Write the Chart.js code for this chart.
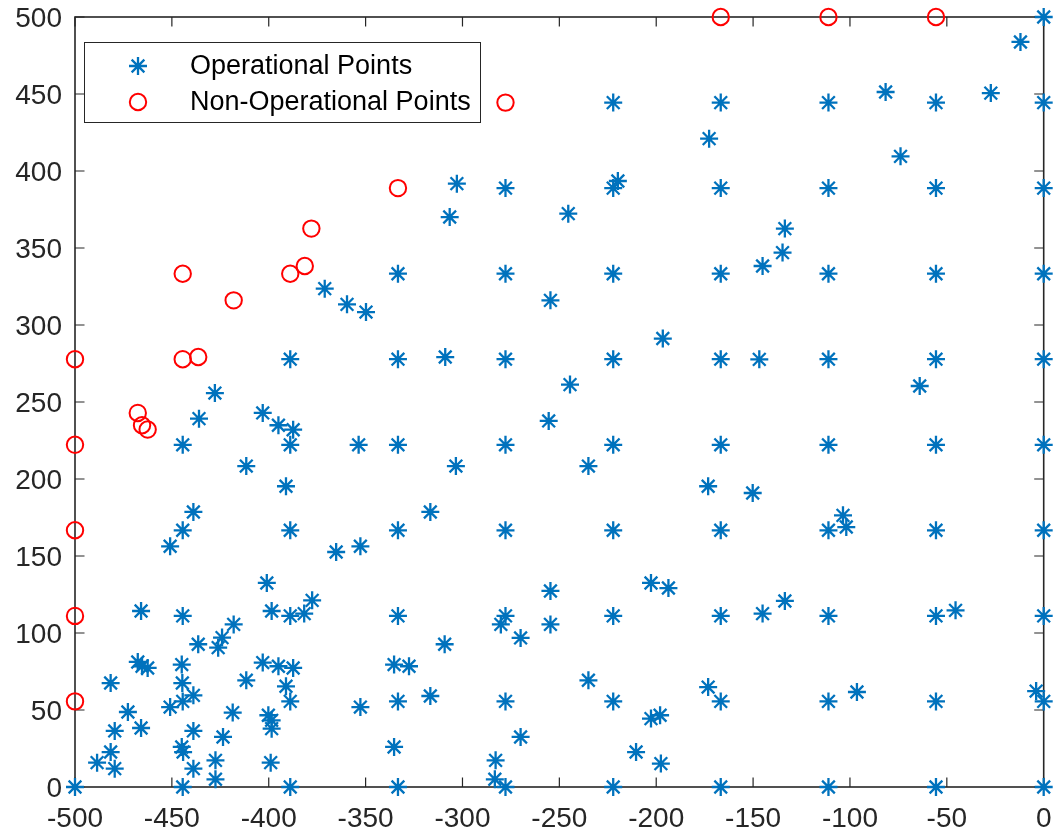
<!DOCTYPE html>
<html>
<head>
<meta charset="utf-8">
<script src="https://cdn.jsdelivr.net/npm/chart.js@4.4.0/dist/chart.umd.min.js"></script>
<style>
  html, body { margin: 0; padding: 0; background: #fff; }
</style>
</head>
<body>
<canvas id="chart" width="1055" height="834"></canvas>
<script>
// Operational points (grid rows first, then the scattered ones)
const opX = [
  0,
  -222.2, -166.7, -111.1, -55.6, 0,
  -277.8, -222.2, -166.7, -111.1, -55.6, 0,
  -333.3, -277.8, -222.2, -166.7, -111.1, -55.6, 0,
  -388.9, -333.3, -277.8, -222.2, -166.7, -111.1, -55.6, 0,
  -444.4, -388.9, -333.3, -277.8, -222.2, -166.7, -111.1, -55.6, 0,
  -444.4, -388.9, -333.3, -277.8, -222.2, -166.7, -111.1, -55.6, 0,
  -444.4, -388.9, -333.3, -277.8, -222.2, -166.7, -111.1, -55.6, 0,
  -444.4, -388.9, -333.3, -277.8, -222.2, -166.7, -111.1, -55.6, 0,
  -500, -444.4, -388.9, -333.3, -277.8, -222.2, -166.7, -111.1, -55.6, 0,
  -436, -403.1, -395, -387.4, -353.6, -411.6, -391.1, -438.9, -450.9, -365.2,
  -352.7, -401, -377.6, -381.7, -398.5, -465.9, -418.1, -424.1, -426.1, -436.4,
  -467.6, -465.4, -462.5, -444.9, -444.6, -438.9, -450.9, -481.6, -472.7, -479.5,
  -465.9, -481.6, -488.6, -479.5, -444.9, -444.2, -438.9, -438.9, -427.5, -427.5,
  -423.6, -418.6, -411.6, -403.1, -395, -387.4, -391.1, -400.2, -398.5, -398.5,
  -399, -352.7, -335.3, -335.3, -327.6, -427.8, -371.1, -359.6, -349.8, -172.7,
  -302.9, -219.8, -306.6, -245.4, -254.6, -196.6, -308.9, -244.5, -12, -81.6,
  -27.3, -73.9, -133.6, -134.8, -145.1, -146.8, -64, -255.5, -303.4, -235,
  -173.2, -316.6, -202.7, -193.7, -254.6, -280.2, -254.6, -270, -309.2, -316.6,
  -235, -173.2, -202.7, -198, -270, -282.9, -283.3, -210.4, -197.6, -150.2,
  -103.6, -101.9, -133.6, -145.1, -45.5, -96.4, -3.9
];
const opY = [
  500,
  444.4, 444.4, 444.4, 444.4, 444.4,
  388.9, 388.9, 388.9, 388.9, 388.9, 388.9,
  333.3, 333.3, 333.3, 333.3, 333.3, 333.3, 333.3,
  277.8, 277.8, 277.8, 277.8, 277.8, 277.8, 277.8, 277.8,
  222.2, 222.2, 222.2, 222.2, 222.2, 222.2, 222.2, 222.2, 222.2,
  166.7, 166.7, 166.7, 166.7, 166.7, 166.7, 166.7, 166.7, 166.7,
  111.1, 111.1, 111.1, 111.1, 111.1, 111.1, 111.1, 111.1, 111.1,
  55.6, 55.6, 55.6, 55.6, 55.6, 55.6, 55.6, 55.6, 55.6,
  0, 0, 0, 0, 0, 0, 0, 0, 0, 0,
  239.2, 242.9, 234.9, 232, 222.2, 208.4, 195.3, 178.6, 156.3, 152.6,
  156.3, 132.5, 121.2, 112.6, 114.3, 114.3, 105.6, 97, 90.5, 92.7,
  81.2, 78.4, 77.3, 79.5, 67.5, 59.5, 51.9, 67.5, 48.7, 36.4,
  38.3, 22.7, 15.8, 11.9, 26, 22.7, 36.4, 11.9, 17.3, 5,
  32.5, 48.3, 69.3, 80.8, 78.4, 77.3, 65.4, 46.6, 43.3, 37.9,
  15.8, 51.9, 26, 79.5, 78.4, 255.8, 323.6, 313.4, 308.4, 421,
  391.8, 393.5, 370.1, 372.3, 316, 291.2, 279.2, 261.3, 483.8, 451.3,
  450.6, 409.5, 362.6, 347, 338.3, 277.7, 260.4, 237.7, 208.4, 208.4,
  195.3, 178.6, 132.5, 129.2, 127.3, 105.6, 105.6, 96.8, 92.7, 59.1,
  69.3, 64.9, 44.4, 46.6, 32.5, 17.3, 5, 22.7, 15.2, 190.9,
  176.4, 168.8, 120.8, 112.6, 114.7, 61.7, 62.3
];

// Non-operational points
const nonOpX = [
  -500, -500, -500, -500, -500,
  -444.4, -436.4, -444.4, -418.1, -388.9, -381.4, -378,
  -333.3, -277.8, -467.6, -465.4, -462.5,
  -166.7, -111.1, -55.6
];
const nonOpY = [
  55.6, 111.1, 166.7, 222.2, 277.8,
  277.8, 279.2, 333.3, 316, 333.3, 338.3, 362.6,
  388.9, 444.4, 242.9, 234.9, 232.1,
  500, 500, 500
];

const seriesNames = ['Operational Points', 'Non-Operational Points'];
const xTicks = [-500, -450, -400, -350, -300, -250, -200, -150, -100, -50, 0];
const yTicks = [0, 50, 100, 150, 200, 250, 300, 350, 400, 450, 500];

const axisColor = '#262626';
const blue = '#0072BD';
const red = '#FF0000';
const fontFamily = '"Liberation Sans", Arial, Helvetica, sans-serif';

function toPoints(xs, ys) {
  return xs.map((x, i) => ({ x: x, y: ys[i] }));
}

// box round the plot with ticks pointing inwards (MATLAB style)
const framePlugin = {
  id: 'frame',
  beforeDatasetsDraw(chart) {
    const { ctx, chartArea: a, scales } = chart;
    const len = 9.5;
    ctx.save();
    ctx.strokeStyle = axisColor;
    ctx.lineWidth = 1.2;
    ctx.beginPath();
    xTicks.forEach(v => {
      const px = scales.x.getPixelForValue(v);
      ctx.moveTo(px, a.bottom); ctx.lineTo(px, a.bottom - len);
      ctx.moveTo(px, a.top); ctx.lineTo(px, a.top + len);
    });
    yTicks.forEach(v => {
      const py = scales.y.getPixelForValue(v);
      ctx.moveTo(a.left, py); ctx.lineTo(a.left + len, py);
      ctx.moveTo(a.right, py); ctx.lineTo(a.right - len, py);
    });
    ctx.stroke();
    ctx.lineWidth = 1.6;
    ctx.strokeRect(a.left, a.top, a.right - a.left, a.bottom - a.top);
    ctx.restore();
  }
};

// legend box in the upper left corner of the axes
const boxLegend = {
  id: 'boxLegend',
  afterDatasetsDraw(chart) {
    const { ctx, chartArea: a } = chart;
    const bx = a.left + 9, by = a.top + 25, bw = 396, bh = 80;
    ctx.save();
    ctx.fillStyle = '#fff';
    ctx.fillRect(bx, by, bw, bh);
    ctx.strokeStyle = '#262626';
    ctx.lineWidth = 1;
    ctx.strokeRect(bx + 0.5, by + 0.5, bw, bh);
    ctx.font = '27px ' + fontFamily;
    ctx.textBaseline = 'middle';
    ctx.textAlign = 'left';
    chart.data.datasets.forEach((ds, i) => {
      const cy = by + 24 + i * 36;
      ctx.strokeStyle = ds.borderColor;
      ctx.fillStyle = 'rgba(0,0,0,0)';
      ctx.lineWidth = ds.borderWidth;
      Chart.helpers.drawPoint(ctx, {
        pointStyle: ds.pointStyle, radius: ds.pointRadius,
        rotation: 0, borderWidth: ds.borderWidth
      }, bx + 54, cy);
      ctx.fillStyle = '#000';
      ctx.fillText(ds.label, bx + 106, cy + 1);
    });
    ctx.restore();
  }
};

new Chart(document.getElementById('chart'), {
  type: 'scatter',
  data: {
    datasets: [
      {
        label: seriesNames[0],
        data: toPoints(opX, opY),
        pointStyle: 'star',
        pointRadius: 9,
        pointHoverRadius: 9,
        borderColor: blue,
        backgroundColor: blue,
        borderWidth: 2.3,
        clip: false
      },
      {
        label: seriesNames[1],
        data: toPoints(nonOpX, nonOpY),
        pointStyle: 'circle',
        pointRadius: 8.2,
        pointHoverRadius: 8.2,
        borderColor: red,
        backgroundColor: 'rgba(0,0,0,0)',
        borderWidth: 2,
        clip: false
      }
    ]
  },
  options: {
    responsive: false,
    animation: false,
    layout: { padding: { left: 0, right: 3.5, top: 17, bottom: 0 } },
    plugins: {
      legend: { display: false },
      tooltip: { enabled: false }
    },
    scales: {
      x: {
        type: 'linear',
        min: -500,
        max: 0,
        grid: { display: false, drawTicks: false },
        border: { display: false },
        afterBuildTicks: s => { s.ticks = xTicks.map(v => ({ value: v })); },
        afterFit: s => { s.height = 47; s.paddingLeft = 0; s.paddingRight = 0; },
        ticks: {
          autoSkip: false,
          maxRotation: 0,
          padding: 15,
          color: axisColor,
          font: { family: fontFamily, size: 28 }
        }
      },
      y: {
        type: 'linear',
        min: 0,
        max: 500,
        grid: { display: false, drawTicks: false },
        border: { display: false },
        afterBuildTicks: s => { s.ticks = yTicks.map(v => ({ value: v })); },
        afterFit: s => { s.width = 75; s.paddingTop = 0; s.paddingBottom = 0; },
        ticks: {
          autoSkip: false,
          padding: 13,
          labelOffset: 2,
          color: axisColor,
          font: { family: fontFamily, size: 28 }
        }
      }
    }
  },
  plugins: [framePlugin, boxLegend]
});
</script>
</body>
</html>
